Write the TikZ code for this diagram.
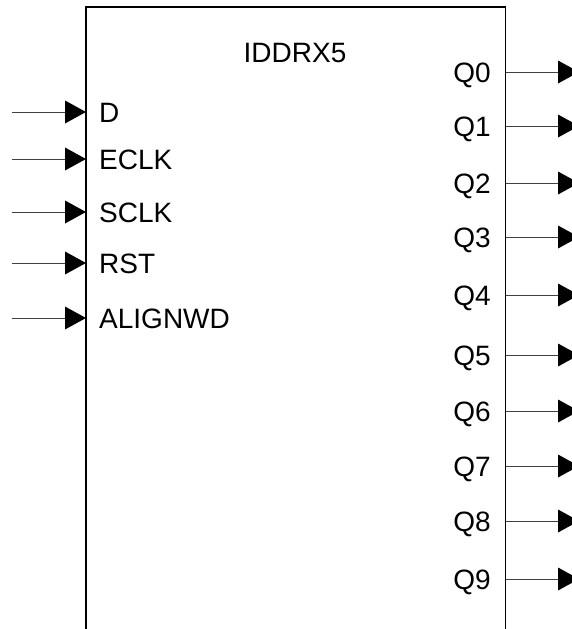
\documentclass[tikz,border=0pt]{standalone}
\usepackage{fontspec}
\setmainfont{Liberation Sans}
\usetikzlibrary{arrows.meta}
\begin{document}
\begin{tikzpicture}[x=1pt,y=-1pt,
  pinline/.style={line width=1pt,draw=black!75,-{Triangle[length=21pt,width=23pt,color=black,line width=0pt]}},
  inlabel/.style={anchor=west,inner sep=0pt,text height=20pt,text depth=0pt,font=\fontsize{28}{32}\selectfont},
  outlabel/.style={anchor=east,inner sep=0pt,text height=20pt,text depth=0pt,font=\fontsize{28}{32}\selectfont},
  blockbox/.style={draw=black,line width=1.5pt,fill=none}]
\useasboundingbox (0,0) rectangle (572,629);
\clip (0,0) rectangle (572,629);
% block (open at the bottom: extends beyond the page)
\draw[blockbox] (86,650) -- (86,7) coordinate (bl) -- (505.5,7) coordinate (br) -- (505.5,650);
\node[inlabel,anchor=center] (title) at (295,52) {IDDRX5};
% inputs
\foreach \nm/\txt/\yy in {d/D/112, eclk/ECLK/159, sclk/SCLK/212, rst/RST/263, align/ALIGNWD/318}{
  \coordinate (\nm src) at (12,\yy);
  \coordinate (\nm pin) at (86,\yy);
  \draw[pinline] (\nm src) -- (\nm pin);
  \node[inlabel] (\nm lbl) at (99,\yy) {\txt};
}
% outputs
\foreach \i/\yy in {0/72, 1/126, 2/183, 3/237, 4/295, 5/355, 6/411, 7/466, 8/521, 9/579}{
  \coordinate (q\i pin) at (505.5,\yy);
  \coordinate (q\i dst) at (579,\yy);
  \draw[pinline] (q\i pin) -- (q\i dst);
  \node[outlabel] (q\i lbl) at (491,\yy) {Q\i};
}
\end{tikzpicture}
\end{document}
